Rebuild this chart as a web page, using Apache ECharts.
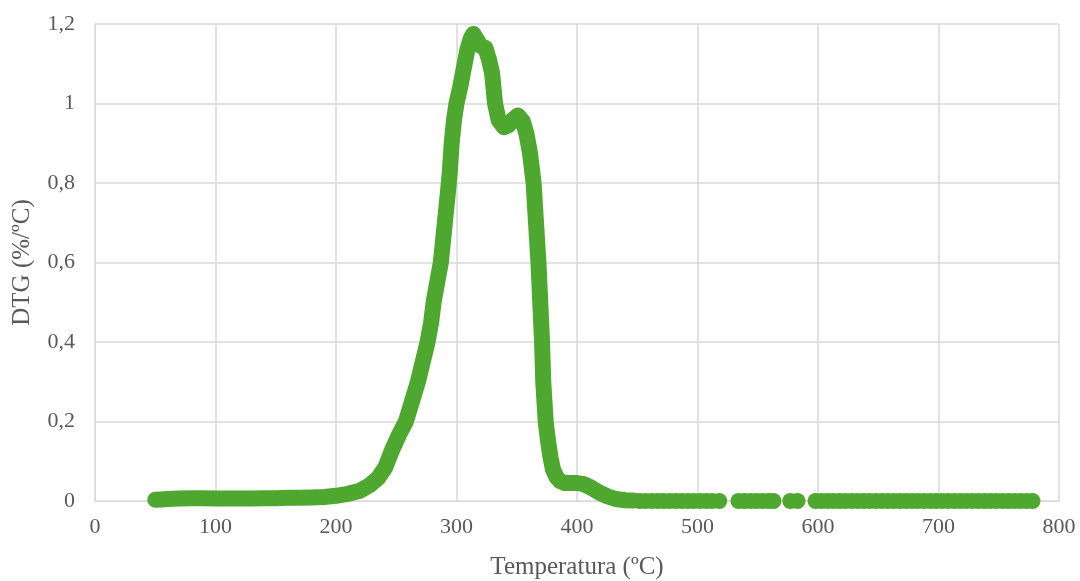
<!DOCTYPE html>
<html>
<head>
  <meta charset="utf-8">
  <title>DTG</title>
  <style>
  body { margin: 0; background: #fff; }
  #chart { width: 1080px; height: 581px; }
  </style>
</head>
<body>
  <div id="chart"></div>
  <script src="https://cdn.jsdelivr.net/npm/echarts@6/dist/echarts.min.js"></script>
  <script>
  // curva DTG (ºC, %/ºC)
  const temps = [50, 55, 60, 70, 80, 90, 100, 110, 120, 130, 140, 150, 160, 170, 180, 190, 200, 210, 220, 228,
    235, 241, 246.5, 252, 258, 263, 268, 272, 276, 279, 281, 284, 287, 289, 291, 293, 294.5, 296, 298, 300,
    303, 305.5, 309, 312, 314, 317, 320, 324, 327, 329.5, 332, 335, 339.5, 343, 347, 351, 355, 358, 361, 364,
    366, 368, 369.5, 371, 372, 374, 376, 378, 380, 383, 386, 390, 400, 405, 411, 418, 425, 432, 440, 447]
  const dtg = [0.003, 0.004, 0.005, 0.006, 0.007, 0.007, 0.006, 0.006, 0.006, 0.006, 0.007, 0.007, 0.008, 0.008, 0.009, 0.010, 0.013, 0.018, 0.026, 0.040,
    0.058, 0.085, 0.128, 0.165, 0.20, 0.25, 0.30, 0.35, 0.40, 0.45, 0.50, 0.55, 0.60, 0.66, 0.72, 0.78, 0.83, 0.90, 0.96, 1.00,
    1.04, 1.08, 1.135, 1.165, 1.175, 1.16, 1.145, 1.14, 1.11, 1.077, 1.00, 0.958, 0.94, 0.945, 0.96, 0.97, 0.955, 0.925, 0.875, 0.80,
    0.70, 0.60, 0.50, 0.40, 0.30, 0.20, 0.15, 0.11, 0.08, 0.06, 0.05, 0.045, 0.045, 0.043, 0.035, 0.022, 0.012, 0.005, 0.002, 0.001]
  // puntos sueltos al final (DTG ~ 0)
  const tailTemps = [452, 457, 462, 467, 472, 477, 482, 487, 492, 497, 502, 507, 512, 518,
    534, 539, 544, 549, 554, 559, 563,
    577, 583,
    598, 603, 608, 613, 618, 623, 628, 633, 638, 643, 648, 653, 658, 663, 668, 673, 678, 683, 688,
    693, 698, 703, 708, 713, 718, 723, 728, 733, 738, 743, 748, 753, 758, 763, 768, 773, 778]
  const tailDtg = tailTemps.map(() => 0)

  const green = '#4ea72e'
  const grey = '#d9d9d9'
  const font = 'Liberation Serif'

  let option = {
    animation: false,
    grid: { left: 95, right: 21, top: 24, bottom: 80, outerBoundsMode: 'none' },
    xAxis: {
      type: 'value',
      min: 0, max: 800, interval: 100,
      name: 'Temperatura (ºC)',
      nameLocation: 'middle',
      nameGap: 54,
      nameTextStyle: { fontFamily: font, fontSize: 25, color: '#595959' },
      axisLine: { lineStyle: { color: grey } },
      axisTick: { show: false },
      axisLabel: { fontFamily: font, fontSize: 22, color: '#595959', margin: 15 },
      splitLine: { show: true, lineStyle: { color: grey, width: 1.5 } }
    },
    yAxis: {
      type: 'value',
      min: 0, max: 1.2, interval: 0.2,
      name: 'DTG (%/ºC)',
      nameLocation: 'middle',
      nameGap: 60,
      nameTextStyle: { fontFamily: font, fontSize: 25, color: '#595959' },
      axisLine: { show: true, lineStyle: { color: grey } },
      axisTick: { show: false },
      axisLabel: {
        fontFamily: font, fontSize: 22, color: '#595959', margin: 20,
        padding: [5, 0, 0, 0],
        formatter: v => String(+v.toFixed(1)).replace('.', ',')
      },
      splitLine: { show: true, lineStyle: { color: grey, width: 1.5 } }
    },
    series: [{
      type: 'line',
      data: temps.map((t, i) => [t, dtg[i]]),
      showSymbol: false,
      smooth: false,
      lineStyle: { color: green, width: 16, cap: 'round', join: 'round' }
    }, {
      type: 'scatter',
      data: tailTemps.map((t, i) => [t, tailDtg[i]]),
      symbolSize: 16,
      itemStyle: { color: green, opacity: 1 }
    }]
  }
  let myChart = echarts.init(document.getElementById('chart'))
  myChart.setOption(option)
  </script>
</body>
</html>
